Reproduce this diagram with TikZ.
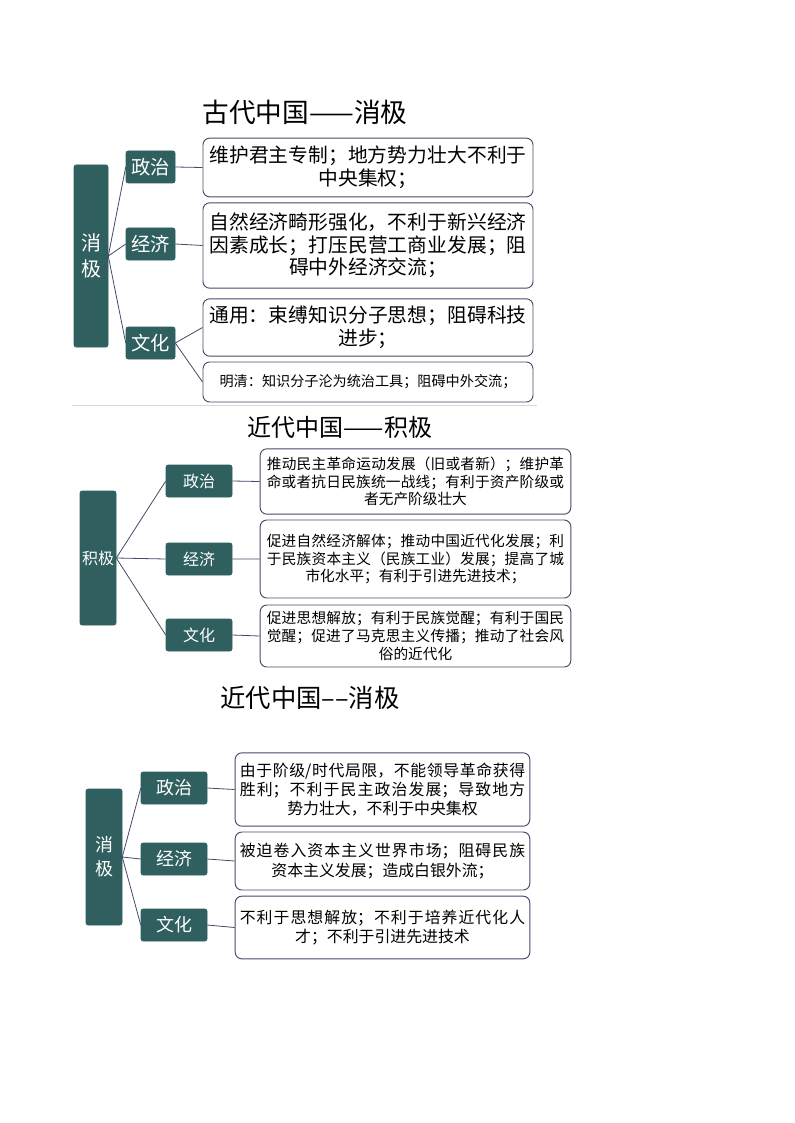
\documentclass[tikz,border=0pt]{standalone}
\usepackage{fontspec}
\setmainfont{Noto Sans CJK SC}
\XeTeXlinebreaklocale "zh"
\XeTeXlinebreakskip=0pt plus 0.5pt
\definecolor{teal2}{HTML}{2F5F5F}
\definecolor{bord}{HTML}{4A4868}
\begin{document}
\begin{tikzpicture}[x=0.75pt,y=-0.75pt,
 dk/.style={fill=teal2,draw=teal2,rounded corners=1.5pt,text=white,inner sep=0pt,align=center},
 tb/.style={draw=bord,line width=0.7pt,rounded corners=5pt,inner sep=2pt,align=justify,
   execute at begin node={\leftskip=0pt plus 1fil\rightskip=0pt plus -1fil\parfillskip=0pt plus 2fil}},
 ln/.style={draw=bord,line width=0.6pt}]
\useasboundingbox (0,0) rectangle (794,1123);
\fill[white] (0,0) rectangle (794,1123);
% Section 1
\node (t1) at (305,112) {\fontsize{20}{24}\selectfont 古代中国——消极};
\node[dk,minimum width=25.5pt,minimum height=136.5pt,font=\fontsize{15}{19}\selectfont] (m1) at (91,256) {消\\极};
\node[dk,minimum width=36.75pt,minimum height=24pt,font=\fontsize{14.5}{16}\selectfont] (a1) at (150.5,167) {政治};
\node[dk,minimum width=36.75pt,minimum height=24pt,font=\fontsize{14.5}{16}\selectfont] (b1) at (150.5,244) {经济};
\node[dk,minimum width=36.75pt,minimum height=24pt,font=\fontsize{14.5}{16}\selectfont] (c1) at (150.5,343) {文化};
\begin{scope}[every node/.style={tb,minimum width=247.5pt,text width=238pt,font=\fontsize{14.8}{17}\selectfont}]
\node[minimum height=44pt] (A1) at (368,167.5) {维护君主专制；地方势力壮大不利于中央集权；};
\node[minimum height=64pt] (B1) at (368,245.5) {自然经济畸形强化，不利于新兴经济因素成长；打压民营工商业发展；阻碍中外经济交流；};
\node[minimum height=43pt] (C1) at (368,327.5) {通用：束缚知识分子思想；阻碍科技进步；};
\node[minimum height=30pt,font=\fontsize{10.6}{13}\selectfont] (D1) at (368,382) {明清：知识分子沦为统治工具；阻碍中外交流；};
\end{scope}
\draw[ln] (m1.east)--(a1.west) (m1.east)--(b1.west) (m1.east)--(c1.west);
\draw[ln] (a1.east)--(A1.west) (b1.east)--(B1.west) (c1.east)--(C1.west) (c1.east)--(D1.west);
\draw[gray!30,line width=0.6pt] (72,405)--(537,405);
% Section 2
\node (t2) at (340,427) {\fontsize{18}{21}\selectfont 近代中国——积极};
\node[dk,minimum width=27pt,minimum height=100.5pt,font=\fontsize{12}{14}\selectfont] (m2) at (98,558) {积极};
\node[dk,minimum width=49.5pt,minimum height=24pt,font=\fontsize{12}{14}\selectfont] (a2) at (199,481) {政治};
\node[dk,minimum width=49.5pt,minimum height=24pt,font=\fontsize{12}{14}\selectfont] (b2) at (199,559) {经济};
\node[dk,minimum width=49.5pt,minimum height=24pt,font=\fontsize{12}{14}\selectfont] (c2) at (199,635) {文化};
\begin{scope}[every node/.style={tb,minimum width=233pt,text width=223pt,font=\fontsize{11}{13.2}\selectfont}]
\node[minimum height=49pt] (A2) at (415.5,481.5) {推动民主革命运动发展（旧或者新）；维护革命或者抗日民族统一战线；有利于资产阶级或者无产阶级壮大};
\node[minimum height=58.5pt] (B2) at (415.5,559) {促进自然经济解体；推动中国近代化发展；利于民族资本主义（民族工业）发展；提高了城市化水平；有利于引进先进技术；};
\node[minimum height=46.5pt] (C2) at (415.5,636) {促进思想解放；有利于民族觉醒；有利于国民觉醒；促进了马克思主义传播；推动了社会风俗的近代化};
\end{scope}
\draw[ln] (m2.east)--(a2.west) (m2.east)--(b2.west) (m2.east)--(c2.west);
\draw[ln] (a2.east)--(A2.west) (b2.east)--(B2.west) (c2.east)--(C2.west);
% Section 3
\node (t3) at (310,698) {\fontsize{19}{22}\selectfont 近代中国––消极};
\node[dk,minimum width=27pt,minimum height=102pt,font=\fontsize{13.5}{18}\selectfont] (m3) at (104,857) {消\\极};
\node[dk,minimum width=49.5pt,minimum height=24pt,font=\fontsize{13.5}{15}\selectfont] (a3) at (174,788) {政治};
\node[dk,minimum width=49.5pt,minimum height=24pt,font=\fontsize{13.5}{15}\selectfont] (b3) at (174,859) {经济};
\node[dk,minimum width=49.5pt,minimum height=24pt,font=\fontsize{13.5}{15}\selectfont] (c3) at (174,925) {文化};
\begin{scope}[every node/.style={tb,minimum width=221pt,text width=214pt,font=\fontsize{11.9}{14.5}\selectfont}]
\node[minimum height=55pt] (A3) at (382.5,789.5) {由于阶级/时代局限，不能领导革命获得胜利；不利于民主政治发展；导致地方势力壮大，不利于中央集权};
\node[minimum height=43.5pt] (B3) at (382.5,861) {被迫卷入资本主义世界市场；阻碍民族资本主义发展；造成白银外流；};
\node[minimum height=47pt] (C3) at (382.5,927.5) {不利于思想解放；不利于培养近代化人才；不利于引进先进技术};
\end{scope}
\draw[ln] (m3.east)--(a3.west) (m3.east)--(b3.west) (m3.east)--(c3.west);
\draw[ln] (a3.east)--(A3.west) (b3.east)--(B3.west) (c3.east)--(C3.west);
\end{tikzpicture}
\end{document}
